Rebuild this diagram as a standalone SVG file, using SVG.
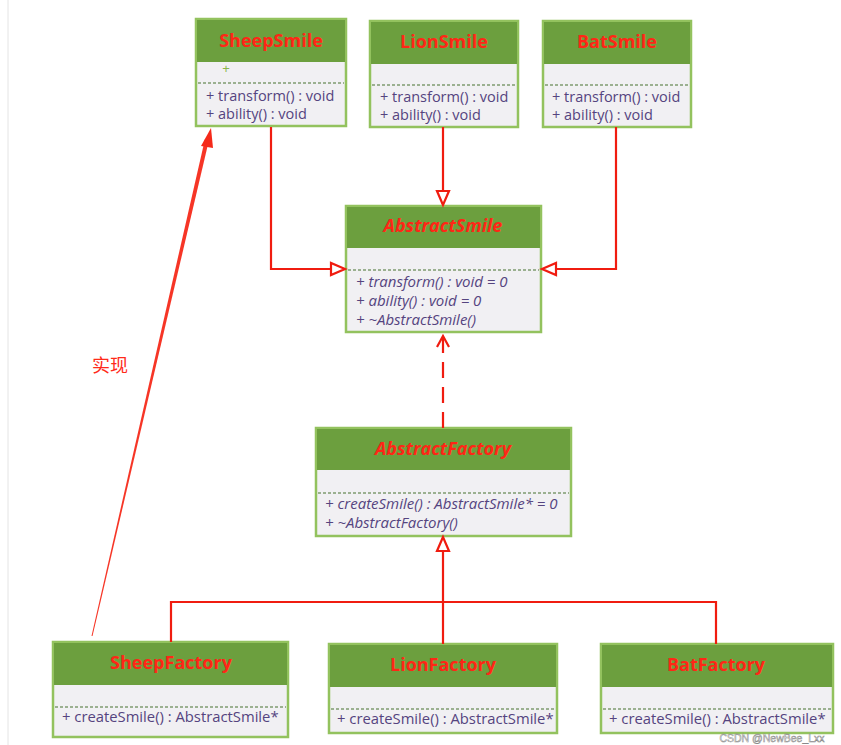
<svg xmlns="http://www.w3.org/2000/svg" width="841" height="745" viewBox="0 0 841 745">
<defs>
<style>
.box{fill:#f1f0f3;stroke:#93c25e;stroke-width:2.5}
.hd{fill:#6c9f3e}
.sep{stroke:#7f9a70;stroke-width:1.3;stroke-dasharray:3 2}
.tt{font-family:"Open Sans","Liberation Sans",sans-serif;font-size:18px;font-weight:bold;fill:#ff2616;text-anchor:middle}
.ti{font-style:italic}
.m{font-family:"Open Sans","Liberation Sans",sans-serif;font-size:14.5px;fill:#55447f}
.mi{font-style:italic;font-size:15px}
.mf{font-size:14.8px}
.ln{fill:none;stroke:#f01c10;stroke-width:2.2}
.tri{fill:#fff;stroke:#f01c10;stroke-width:2.2}
</style>
<marker id="open" markerWidth="14" markerHeight="14" refX="12" refY="7" orient="auto" markerUnits="userSpaceOnUse">
<path d="M1,1 L12,7 L1,13" fill="none" stroke="#f01c10" stroke-width="2.2"/>
</marker>
</defs>
<rect width="841" height="745" fill="#ffffff"/>
<line x1="8" y1="0" x2="8" y2="745" stroke="#e4e4e4" stroke-width="1"/>

<g id="SheepSmile">
<rect class="box" x="196" y="19" width="150" height="107"/>
<rect class="hd" x="197" y="20" width="148" height="42"/>
<text class="tt" x="271" y="47">SheepSmile</text>
<text x="226" y="73" font-family="Liberation Sans,sans-serif" font-size="13" fill="#8ab64a" text-anchor="middle">+</text>
<line class="sep" x1="198" y1="83" x2="344" y2="83"/>
<text class="m" x="206" y="101">+ transform() : void</text>
<text class="m" x="206" y="119">+ ability() : void</text>
</g>

<g id="LionSmile">
<rect class="box" x="370" y="21" width="148" height="106"/>
<rect class="hd" x="371" y="22" width="146" height="42"/>
<text class="tt" x="444" y="48">LionSmile</text>
<line class="sep" x1="372" y1="85" x2="516" y2="85"/>
<text class="m" x="380" y="102">+ transform() : void</text>
<text class="m" x="380" y="120">+ ability() : void</text>
</g>

<g id="BatSmile">
<rect class="box" x="543" y="21" width="148" height="106"/>
<rect class="hd" x="544" y="22" width="146" height="42"/>
<text class="tt" x="617" y="48">BatSmile</text>
<line class="sep" x1="545" y1="85" x2="689" y2="85"/>
<text class="m" x="552" y="102">+ transform() : void</text>
<text class="m" x="552" y="120">+ ability() : void</text>
</g>

<g id="AbstractSmile">
<rect class="box" x="346" y="206" width="195" height="126"/>
<rect class="hd" x="347" y="207" width="193" height="41"/>
<text class="tt ti" x="443" y="232">AbstractSmile</text>
<line class="sep" x1="348" y1="270" x2="539" y2="270"/>
<text class="m mi" x="356" y="287">+ transform() : void = 0</text>
<text class="m mi" x="356" y="306">+ ability() : void = 0</text>
<text class="m mi" x="356" y="325">+ ~AbstractSmile()</text>
</g>

<g id="AbstractFactory">
<rect class="box" x="316" y="428" width="255" height="108"/>
<rect class="hd" x="317" y="429" width="253" height="41"/>
<text class="tt ti" x="443" y="455">AbstractFactory</text>
<line class="sep" x1="318" y1="493" x2="569" y2="493"/>
<text class="m mi" x="325" y="509">+ createSmile() : AbstractSmile* = 0</text>
<text class="m mi" x="325" y="528">+ ~AbstractFactory()</text>
</g>

<g id="SheepFactory">
<rect class="box" x="53" y="642" width="235" height="95"/>
<rect class="hd" x="54" y="643" width="233" height="42"/>
<text class="tt" x="171" y="669">SheepFactory</text>
<line class="sep" x1="55" y1="707" x2="286" y2="707"/>
<text class="m mf" x="62" y="722">+ createSmile() : AbstractSmile*</text>
</g>

<g id="LionFactory">
<rect class="box" x="329" y="644" width="228" height="89"/>
<rect class="hd" x="330" y="645" width="226" height="42"/>
<text class="tt" x="443" y="671">LionFactory</text>
<line class="sep" x1="331" y1="709" x2="555" y2="709"/>
<text class="m mf" x="337" y="724">+ createSmile() : AbstractSmile*</text>
</g>

<g id="BatFactory">
<rect class="box" x="601" y="644" width="232" height="89"/>
<rect class="hd" x="602" y="645" width="230" height="42"/>
<text class="tt" x="716" y="671">BatFactory</text>
<line class="sep" x1="603" y1="709" x2="831" y2="709"/>
<text class="m mf" x="609" y="724">+ createSmile() : AbstractSmile*</text>
</g>

<g id="connectors">
<polyline class="ln" points="271,127 271,269 331,269"/>
<polygon class="tri" points="345,269 331,263 331,275"/>
<line class="ln" x1="443" y1="127" x2="443" y2="191"/>
<polygon class="tri" points="443,205 437,191 449,191"/>
<polyline class="ln" points="616,127 616,269 556,269"/>
<polygon class="tri" points="542,269 556,263 556,275"/>
<line class="ln" x1="443" y1="428" x2="443" y2="336" stroke-dasharray="16 9" marker-end="url(#open)"/>
<polyline class="ln" points="171,642 171,602 716,602 716,644"/>
<line class="ln" x1="443" y1="644" x2="443" y2="551"/>
<polygon class="tri" points="443,537 437,551 449,551"/>
<polygon points="91.5,636 92.5,636 209,140 205,139" fill="#f52a1a" opacity="0.95"/>
<polygon points="211,128 201,146 213,148" fill="#f52a1a"/>
</g>

<text x="92" y="372" font-family="Noto Sans CJK SC,sans-serif" font-size="18" fill="#ff2a1a">实现</text>
<text x="772" y="741.5" font-family="Liberation Sans,sans-serif" font-size="10.5" fill="#ffffff" stroke="#8a8a8a" stroke-width="0.5" text-anchor="middle">CSDN @NewBee_Lxx</text>
</svg>
